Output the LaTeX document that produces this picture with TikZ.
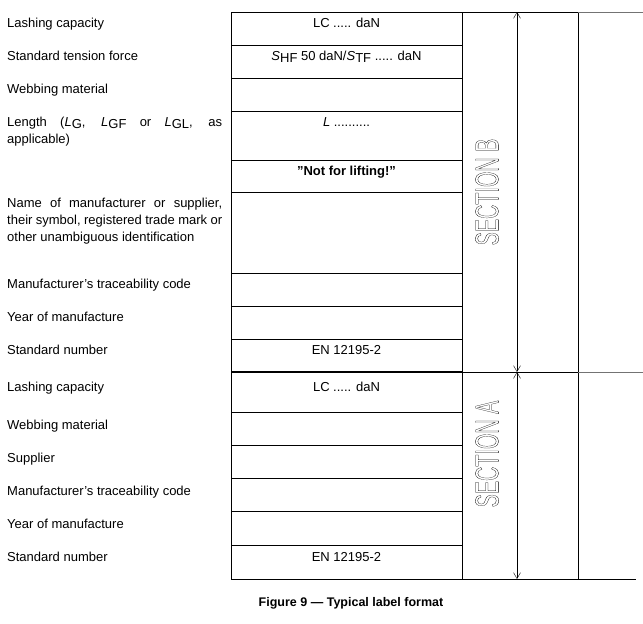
\documentclass[tikz,border=0pt]{standalone}
\usepackage{fontspec}
\setmainfont{Liberation Sans}
\usetikzlibrary{arrows.meta, positioning}
\tikzset{
    cell/.style={
           draw=black, semithick,
           },
    field/.style={
           anchor=north west,
           text width=215pt,
           align=justify,
           inner sep=0pt,
           font=\fontsize{13}{16.7}\selectfont,
           },
    entry/.style={
           anchor=north,
           inner sep=0pt,
           font=\fontsize{13}{16}\selectfont,
           },
    section/.style={
           rotate=90,
           text=black,
           inner sep=0pt,
           font=\fontsize{33}{33}\selectfont,
           },
}
\newcommand{\outlined}[1]{\special{pdf:code 1 Tr 0.3 w}#1\special{pdf:code 0 Tr}}
\newcommand{\sub}[2]{\textit{#1}\raisebox{-0.3ex}{#2}}
\newcommand{\qt}{\char"22\relax}
\begin{document}
\hyphenpenalty=10000
\exhyphenpenalty=10000
\begin{tikzpicture}[x=1pt, y=-1pt, >={Straight Barb[length=6pt,width=7pt]}]
      \useasboundingbox (0,0) rectangle (643,624);
      % cells of section B
      \foreach \top/\bot in {12/45, 45/78, 78/111, 111/160, 160/192, 192/273, 273/306, 306/339, 339/372}
        \draw[cell] (231,\top) rectangle (462,\bot);
      % cells of section A
      \foreach \top/\bot in {372/412, 412/445, 445/478, 478/511, 511/545, 545/579}
        \draw[cell] (231,\top) rectangle (462,\bot);
      \draw[cell] (462,12) rectangle (578,579);
      \draw[cell] (462,372) -- (578,372);
      \draw[line width=2.2pt] (231,372) -- (462,372);
      \draw[black!55, semithick] (578,12) -- (643,12);
      \draw[black!55, semithick] (578,372) -- (643,372);
      \draw[semithick] (578,579) -- (636,579);
      % left column
      \node[field] (lcB)   at (7,18)  {Lashing capacity};
      \node[field] (stf)   at (7,51)  {Standard tension force};
      \node[field] (webB)  at (7,84)  {Webbing material};
      \node[field] (len)   at (7,117) {Length (\sub{L}{G}, \sub{L}{GF} or \sub{L}{GL}, as applicable)};
      \node[field] (manu)  at (7,198) {Name of manufacturer or supplier, their symbol, registered trade mark or other unambiguous identification};
      \node[field] (trcB)  at (7,279) {Manufacturer's traceability code};
      \node[field] (yrB)   at (7,312) {Year of manufacture};
      \node[field] (stdB)  at (7,345) {Standard number};
      \node[field] (lcA)   at (7,382) {Lashing capacity};
      \node[field] (webA)  at (7,420) {Webbing material};
      \node[field] (sup)   at (7,453) {Supplier};
      \node[field] (trcA)  at (7,486) {Manufacturer's traceability code};
      \node[field] (yrA)   at (7,519) {Year of manufacture};
      \node[field] (stdA)  at (7,552) {Standard number};
      % entries
      \node[entry] (lcvB)  at (346.5,18)  {LC ..... daN};
      \node[entry] (sv)    at (346.5,51)  {\sub{S}{HF} 50 daN/\sub{S}{TF} ..... daN};
      \node[entry] (lv)    at (346.5,117) {\textit{L} ..........};
      \node[entry] (nfl)   at (346.5,166) {\textbf{\qt Not for lifting!\qt}};
      \node[entry] (envB)  at (346.5,345) {EN 12195-2};
      \node[entry] (lcvA)  at (346.5,382) {LC ..... daN};
      \node[entry] (envA)  at (346.5,552) {EN 12195-2};
      % sections
      \coordinate (bTop) at (517,12);
      \coordinate (mid)  at (517,372);
      \coordinate (aBot) at (517,579);
      \draw[<->, thin] (bTop) -- (mid);
      \draw[<->, thin] (mid) -- (aBot);
      \node[section] (secB) at (487,192) {\scalebox{0.6}[1]{\outlined{SECTION B}}};
      \node[section] (secA) at (487,454) {\scalebox{0.6}[1]{\outlined{SECTION A}}};
      \node[entry, font=\fontsize{12.5}{14}\selectfont\bfseries] (cap) at (351,597) {Figure 9 — Typical label format};
\end{tikzpicture}
\end{document}
